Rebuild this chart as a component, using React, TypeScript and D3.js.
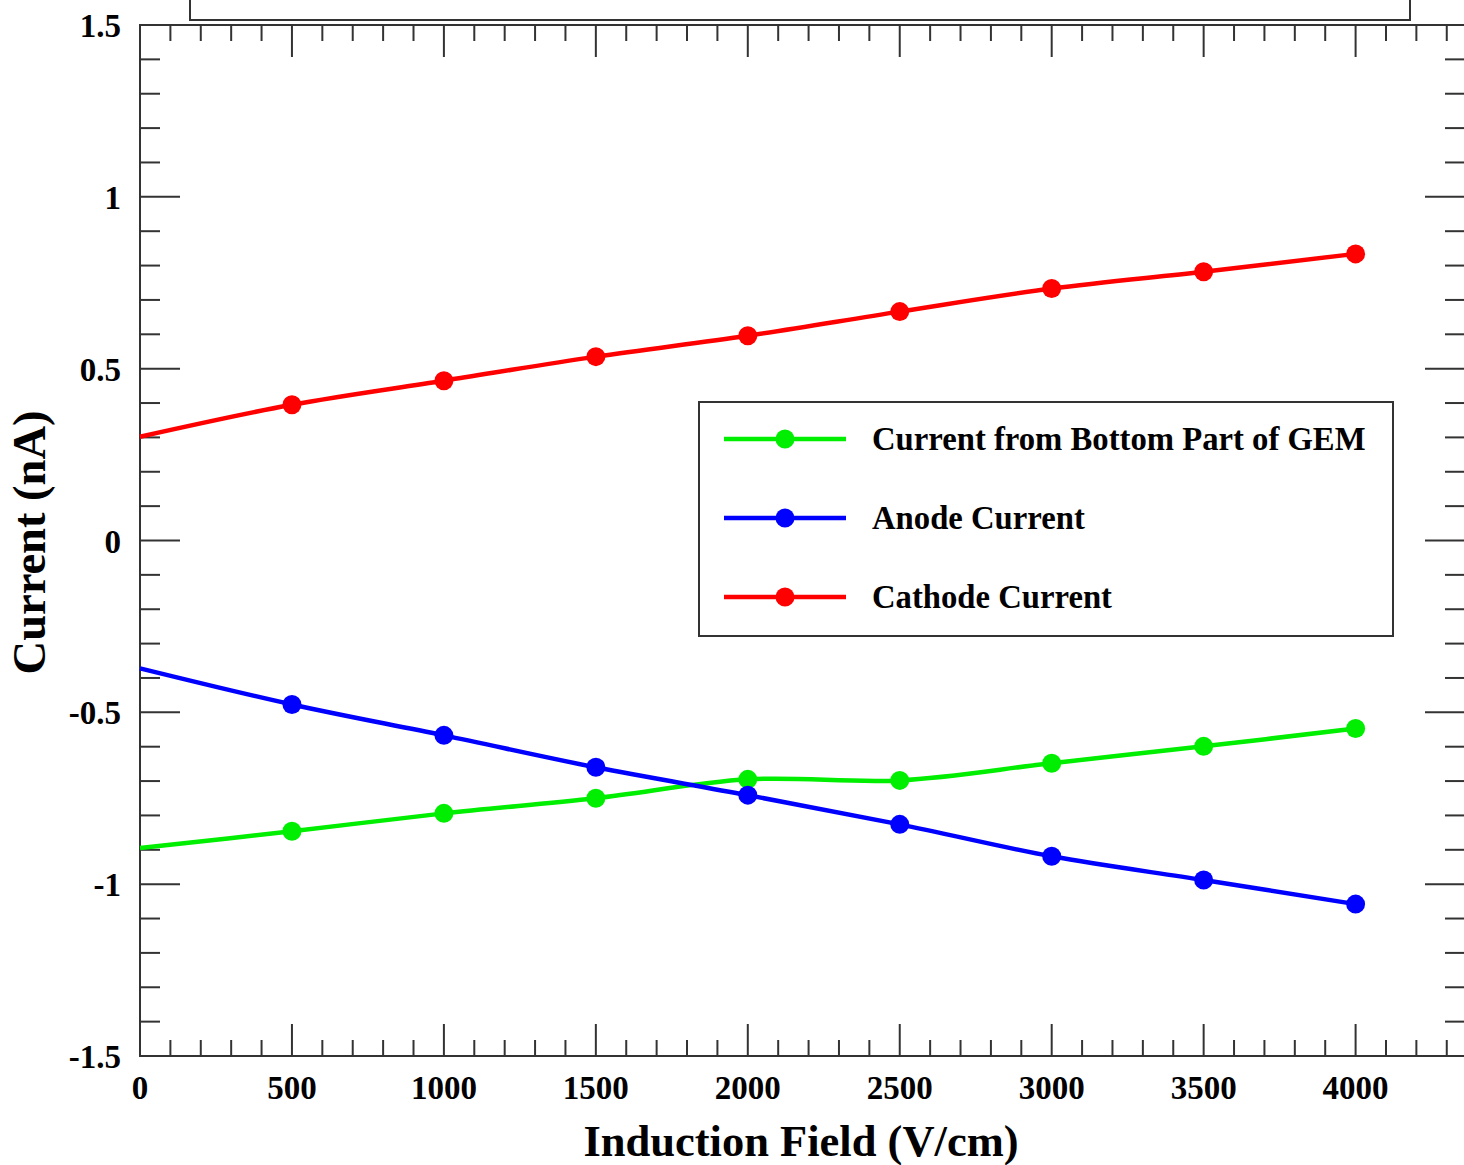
import React, { useEffect, useRef } from 'react';
import * as d3 from 'd3';

// Induction field values (V/cm)
const fields = [0, 500, 1000, 1500, 2000, 2500, 3000, 3500, 4000];
// Currents (nA)
const bottomGem = [-0.895, -0.846, -0.794, -0.75, -0.695, -0.698, -0.648, -0.599, -0.547];
const anode = [-0.372, -0.477, -0.567, -0.66, -0.741, -0.826, -0.919, -0.988, -1.058];
const cathode = [0.302, 0.395, 0.465, 0.535, 0.596, 0.666, 0.733, 0.782, 0.834];

const xTicks = [0, 500, 1000, 1500, 2000, 2500, 3000, 3500, 4000];
const yTicks = [-1.5, -1, -0.5, 0, 0.5, 1, 1.5];

const seriesNames = ['Current from Bottom Part of GEM', 'Anode Current', 'Cathode Current'];
const seriesColors = ['#00ee00', '#0000ff', '#ff0000'];

export default function App() {
  const ref = useRef<SVGSVGElement>(null);

  useEffect(() => {
    const width = 1464;
    const height = 1165;
    const left = 140, right = 1465, top = 25, bottom = 1056;

    const svg = d3.select(ref.current);
    svg.selectAll('*').remove();

    const x = d3.scaleLinear().domain([0, 4360]).range([left, right]);
    const y = d3.scaleLinear().domain([-1.5, 1.5]).range([bottom, top]);

    const font = '"Liberation Serif", "Times New Roman", serif';
    const axisColor = '#333';

    // title box, clipped at the top of the picture
    svg.append('rect')
      .attr('x', 190).attr('y', -10).attr('width', 1220).attr('height', 30)
      .attr('fill', 'none').attr('stroke', axisColor).attr('stroke-width', 2);

    // frame
    svg.append('rect')
      .attr('x', left).attr('y', top).attr('width', right - left).attr('height', bottom - top)
      .attr('fill', 'none').attr('stroke', axisColor).attr('stroke-width', 2);

    const g = svg.append('g').attr('stroke', axisColor).attr('stroke-width', 2);

    // x ticks, minor every 100
    d3.range(0, 4360, 100).forEach((v) => {
      const major = v % 500 === 0;
      const len = major ? 32 : 16;
      g.append('line').attr('x1', x(v)).attr('x2', x(v)).attr('y1', bottom).attr('y2', bottom - len);
      g.append('line').attr('x1', x(v)).attr('x2', x(v)).attr('y1', top).attr('y2', top + len);
    });

    // y ticks, minor every 0.1
    d3.range(-15, 16).forEach((i) => {
      const v = i / 10;
      const major = i % 5 === 0;
      const len = major ? 40 : 20;
      g.append('line').attr('x1', left).attr('x2', left + len).attr('y1', y(v)).attr('y2', y(v));
      g.append('line').attr('x1', right).attr('x2', right - len).attr('y1', y(v)).attr('y2', y(v));
    });

    // tick labels
    svg.append('g').selectAll('text').data(xTicks).enter().append('text')
      .attr('x', (d) => x(d)).attr('y', 1099)
      .attr('text-anchor', 'middle')
      .attr('font-family', font).attr('font-weight', 'bold').attr('font-size', 33)
      .text((d) => String(d));

    svg.append('g').selectAll('text').data(yTicks).enter().append('text')
      .attr('x', 121).attr('y', (d) => y(d) + 12)
      .attr('text-anchor', 'end')
      .attr('font-family', font).attr('font-weight', 'bold').attr('font-size', 33)
      .text((d) => String(d));

    // axis titles
    svg.append('text')
      .attr('x', 801).attr('y', 1156)
      .attr('text-anchor', 'middle')
      .attr('font-family', font).attr('font-weight', 'bold').attr('font-size', 44.5)
      .text('Induction Field (V/cm)');

    svg.append('text')
      .attr('transform', `translate(45,${y(0) + 2}) rotate(-90)`)
      .attr('text-anchor', 'middle')
      .attr('font-family', font).attr('font-weight', 'bold').attr('font-size', 46.5)
      .text('Current (nA)');

    // series
    const allSeries = [bottomGem, anode, cathode];
    const line = d3.line<number>()
      .x((_, i) => x(fields[i]))
      .y((d) => y(d))
      .curve(d3.curveCatmullRom);

    allSeries.forEach((vals, s) => {
      svg.append('path')
        .attr('d', line(vals))
        .attr('fill', 'none')
        .attr('stroke', seriesColors[s])
        .attr('stroke-width', 4.5);
      svg.append('g').selectAll('circle')
        .data(vals.slice(1))
        .enter().append('circle')
        .attr('cx', (_, i) => x(fields[i + 1]))
        .attr('cy', (d) => y(d))
        .attr('r', 9.5)
        .attr('fill', seriesColors[s]);
    });

    // legend
    const lg = svg.append('g');
    lg.append('rect')
      .attr('x', 699).attr('y', 402).attr('width', 694).attr('height', 234)
      .attr('fill', 'white').attr('stroke', axisColor).attr('stroke-width', 2);
    seriesNames.forEach((name, i) => {
      const ly = 439 + i * 79;
      lg.append('line').attr('x1', 724).attr('x2', 846).attr('y1', ly).attr('y2', ly)
        .attr('stroke', seriesColors[i]).attr('stroke-width', 4.5);
      lg.append('circle').attr('cx', 785).attr('cy', ly).attr('r', 9.5).attr('fill', seriesColors[i]);
      lg.append('text')
        .attr('x', 872).attr('y', ly + 11)
        .attr('font-family', font).attr('font-weight', 'bold').attr('font-size', 32.7)
        .text(name);
    });

    svg.attr('width', width).attr('height', height);
  }, []);

  return (
    <svg
      ref={ref}
      width={1464}
      height={1165}
      style={{ position: 'absolute', left: 0, top: 0, background: 'white' }}
    />
  );
}
